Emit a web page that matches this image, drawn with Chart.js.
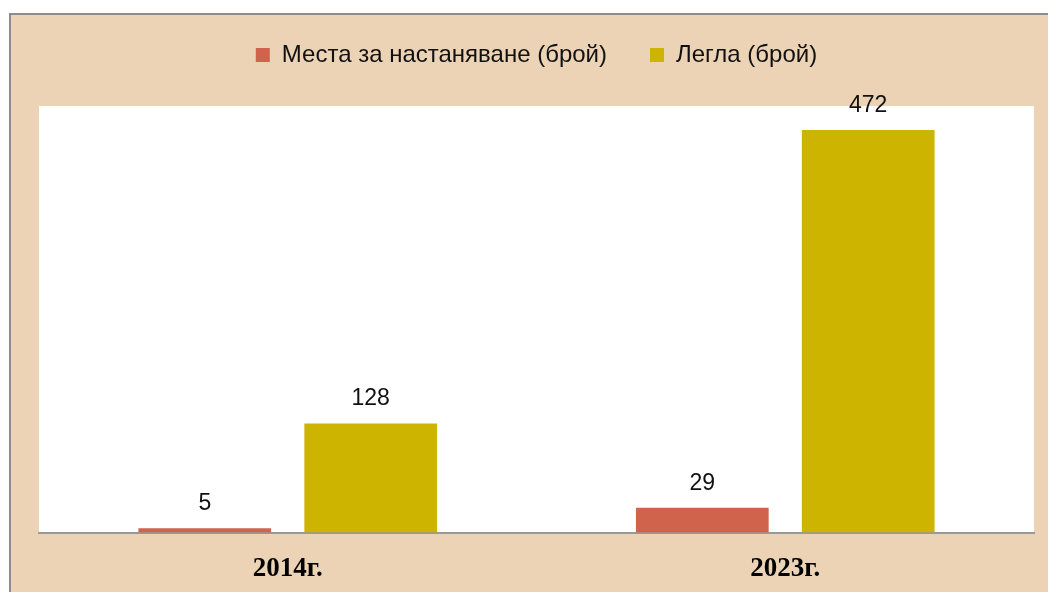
<!DOCTYPE html>
<html lang="bg">
  <head>
    <meta charset="UTF-8" />
    <title>Места и легла</title>
    <style>
      body {
        margin: 0;
        background: #fff;
        overflow: hidden;
      }
      .frame {
        position: absolute;
        left: 9px;
        top: 13px;
        width: 1100px;
        height: 640px;
        border: 2px solid #8c8c8c;
        background: #ecd3b5;
      }
      #myChart {
        position: absolute;
        left: 0;
        top: 0;
      }
    </style>
  </head>
  <body>
    <div class="frame"></div>
    <canvas id="myChart" width="1048" height="592"></canvas>
  </body>
  <script src="https://cdn.jsdelivr.net/npm/chart.js"></script>
  <script>
    const labels = ['2014г.', '2023г.'];
    const places = [5, 29];
    const beds = [128, 472];

    // white plot area
    const plotBg = {
      id: 'plotBg',
      beforeDraw(chart) {
        const { ctx, chartArea: a } = chart;
        ctx.save();
        ctx.fillStyle = '#ffffff';
        ctx.fillRect(a.left, a.top, a.right - a.left, a.bottom - a.top);
        ctx.restore();
      },
    };

    // extra room under the legend
    const legendGap = {
      id: 'legendGap',
      beforeInit(chart) {
        const fit = chart.legend.fit;
        chart.legend.fit = function () {
          fit.bind(chart.legend)();
          this.height += 29;
        };
      },
    };

    // numbers above the bars
    const valueLabels = {
      id: 'valueLabels',
      afterDatasetsDraw(chart) {
        const { ctx } = chart;
        ctx.save();
        ctx.font = '23px "Liberation Sans", sans-serif';
        ctx.fillStyle = '#111';
        ctx.textAlign = 'center';
        ctx.textBaseline = 'bottom';
        chart.data.datasets.forEach((ds, i) => {
          chart.getDatasetMeta(i).data.forEach((bar, j) => {
            ctx.fillText(ds.data[j], bar.x, bar.y - 13);
          });
        });
        ctx.restore();
      },
    };

    new Chart(document.getElementById('myChart'), {
      type: 'bar',
      data: {
        labels: labels,
        datasets: [
          {
            label: 'Места за настаняване (брой)',
            data: places,
            backgroundColor: '#d0634b',
          },
          {
            label: 'Легла (брой)',
            data: beds,
            backgroundColor: '#cdb400',
          },
        ],
      },
      options: {
        responsive: false,
        animation: false,
        categoryPercentage: 0.667,
        barPercentage: 0.8,
        layout: { padding: { left: 39, right: 14, top: 0, bottom: -13 } },
        plugins: {
          tooltip: { enabled: false },
          legend: {
            position: 'top',
            labels: {
              boxWidth: 14,
              boxHeight: 14,
              padding: 43,
              color: '#111',
              font: { family: '"Liberation Sans", sans-serif', size: 24 },
            },
          },
        },
        scales: {
          x: {
            grid: { display: false, drawTicks: false },
            border: { display: true, color: '#999', width: 2 },
            ticks: {
              padding: 20,
              color: '#000',
              font: { family: '"Liberation Serif", serif', size: 27, weight: 'bold' },
            },
          },
          y: {
            display: false,
            min: 0,
            max: 500,
          },
        },
      },
      plugins: [plotBg, legendGap, valueLabels],
    });
  </script>
</html>
